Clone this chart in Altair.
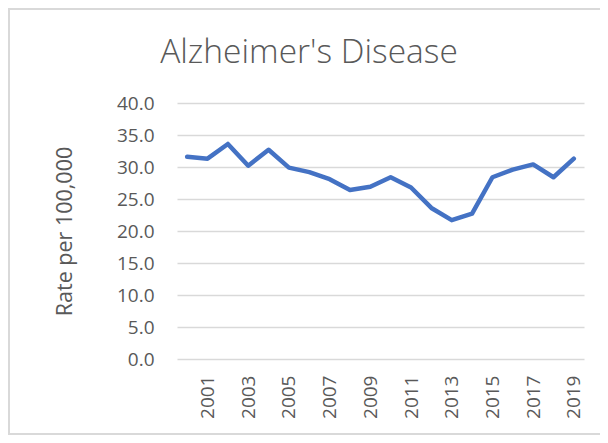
import altair as alt
import pandas as pd

years = list(range(2000, 2020))
rates = [31.6, 31.3, 33.6, 30.2, 32.7, 29.9, 29.2, 28.1, 26.4, 26.9,
         28.4, 26.8, 23.6, 21.7, 22.7, 28.4, 29.6, 30.4, 28.4, 31.3]
y_ticks = [0, 5, 10, 15, 20, 25, 30, 35, 40]

df = pd.DataFrame({"year": [str(y) for y in years], "rate": rates})

W, H = 407, 256
LEFT, TOP = 169, 95
TOTAL_W, TOTAL_H = 592, 427

line = alt.Chart(df).mark_line(
    color="#4472C4", strokeWidth=4.5, strokeJoin="round", strokeCap="round"
).encode(
    x=alt.X("year:O", title=None,
            scale=alt.Scale(paddingInner=0, paddingOuter=0.5),
            axis=alt.Axis(labelAngle=-90, labelExpr="toNumber(datum.value) % 2 == 1 ? datum.value : ''",
                          ticks=False, domain=False, grid=False, labelPadding=16,
                          labelFont="Open Sans", labelFontSize=19, labelColor="#595959",
                          labelBaseline="middle", labelAlign="right")),
    y=alt.Y("rate:Q", title="Rate per 100,000",
            scale=alt.Scale(domain=[0, 40], nice=False, zero=True),
            axis=alt.Axis(values=y_ticks, format=".1f", ticks=False, domain=False,
                          labelPadding=23, labelFont="Open Sans", labelFontSize=19,
                          labelColor="#595959", gridColor="#d9d9d9", gridWidth=1.5,
                          titleFont="Open Sans", titleFontSize=21.5, titleFontWeight="normal",
                          titleColor="#595959", titlePadding=40)),
)

border = alt.Chart(pd.DataFrame({"a": [0]})).mark_rect(
    fill=None, stroke="#d9d9d9", strokeWidth=2
).encode(
    x=alt.value(1 - LEFT), x2=alt.value(TOTAL_W + 10 - LEFT),
    y=alt.value(1 - TOP), y2=alt.value(TOTAL_H - 1 - TOP),
)

title = alt.Chart(pd.DataFrame({"t": ["Alzheimer's Disease"]})).mark_text(
    font="Open Sans", fontSize=33.5, fontWeight=300, color="#595959",
    align="center", baseline="alphabetic"
).encode(
    text="t:N",
    x=alt.value(309 - 8 - LEFT), y=alt.value(63 - 8 - TOP),
)

chart = alt.layer(border, line, title).properties(
    width=W, height=H,
    autosize=alt.AutoSizeParams(type="none"),
    padding={"left": LEFT, "top": TOP, "right": TOTAL_W - LEFT - W, "bottom": TOTAL_H - TOP - H},
).configure(background="white").configure_view(stroke=None)

chart.save("out.html", embed_options={"renderer": "svg", "actions": False})
